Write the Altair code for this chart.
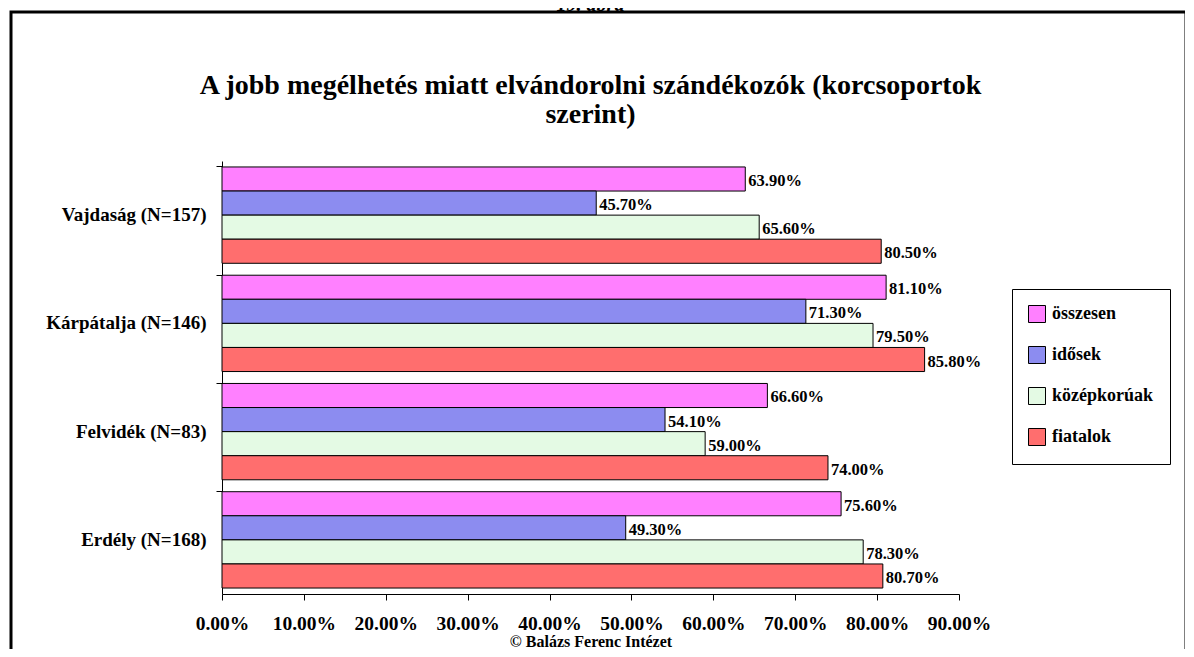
import altair as alt
import pandas as pd

regions = ["Vajdaság (N=157)", "Kárpátalja (N=146)", "Felvidék (N=83)", "Erdély (N=168)"]
groups = ["összesen", "idősek", "középkorúak", "fiatalok"]
colors = ["#FF80FF", "#8C8CF0", "#E4FAE4", "#FF6E6E"]

osszesen = [0.639, 0.811, 0.666, 0.756]
idosek = [0.457, 0.713, 0.541, 0.493]
kozepkoruak = [0.656, 0.795, 0.590, 0.783]
fiatalok = [0.805, 0.858, 0.740, 0.807]

x_ticks = [0.0, 0.1, 0.2, 0.3, 0.4, 0.5, 0.6, 0.7, 0.8, 0.9]

title_lines = ["A jobb megélhetés miatt elvándorolni szándékozók (korcsoportok", "szerint)"]
header = "19. ábra"
footer = "© Balázs Ferenc Intézet"

rows = []
for series, name in zip([osszesen, idosek, kozepkoruak, fiatalok], groups):
    for r, v in zip(regions, series):
        rows.append({"region": r, "group": name, "value": v})
df = pd.DataFrame(rows)

FONT = "Liberation Serif"

y_enc = alt.Y("region:N", sort=regions,
              scale=alt.Scale(paddingInner=0.11, paddingOuter=0.055),
              axis=alt.Axis(title=None, labelFont=FONT, labelFontSize=19, labelFontWeight="bold",
                            labelColor="black", domainColor="black", tickColor="black",
                            tickSize=6, labelPadding=10, bandPosition=0, grid=False))
yoff = alt.YOffset("group:N", sort=groups, scale=alt.Scale(paddingInner=0, paddingOuter=0))

x_enc = alt.X("value:Q", scale=alt.Scale(domain=[0, 0.9], nice=False),
              axis=alt.Axis(values=x_ticks, format=".2%", title=footer,
                            titleFont=FONT, titleFontSize=16, titleFontWeight="bold",
                            titleColor="black", titlePadding=1,
                            labelFont=FONT, labelFontSize=19.5, labelFontWeight="bold",
                            labelColor="black", labelPadding=14, labelOverlap=False,
                            labelFlush=False, domainColor="black",
                            tickColor="black", tickSize=6, grid=False))

base = alt.Chart(df)

bars = base.mark_bar(stroke="black", strokeWidth=1).encode(
    x=x_enc,
    y=y_enc,
    yOffset=yoff,
    color=alt.Color("group:N", sort=groups,
                    scale=alt.Scale(domain=groups, range=colors),
                    legend=alt.Legend(title=None, orient="none", legendX=790, legendY=128,
                                      strokeColor="black", fillColor="white", padding=16,
                                      symbolType="square", symbolSize=289,
                                      symbolStrokeColor="black", symbolStrokeWidth=1,
                                      symbolOpacity=1,
                                      labelFont=FONT, labelFontSize=18, labelFontWeight="bold",
                                      labelColor="black", rowPadding=19, labelOffset=6)),
)

labels = base.mark_text(align="left", baseline="middle", dx=3, dy=2, font=FONT,
                        fontSize=16.5, fontWeight="bold", color="black").encode(
    x="value:Q",
    y=alt.Y("region:N", sort=regions),
    yOffset=yoff,
    text=alt.Text("value:Q", format=".2%"),
)

one = pd.DataFrame({"a": [0]})
frame = alt.Chart(one).mark_rect(filled=False, stroke="black", strokeWidth=3).encode(
    x=alt.value(-211), x2=alt.value(964), y=alt.value(-149), y2=alt.value(560))

caption = alt.Chart(one).mark_text(font=FONT, fontSize=20, fontWeight="bold", fontStyle="italic",
                                   baseline="alphabetic", align="center", color="black").encode(
    x=alt.value(368.5), y=alt.value(-150), text=alt.value(header))

title1 = alt.Chart(one).mark_text(font=FONT, fontSize=28, fontWeight="bold",
                                  baseline="alphabetic", align="center", color="black").encode(
    x=alt.value(368.5), y=alt.value(-67), text=alt.value(title_lines[0]))
title2 = alt.Chart(one).mark_text(font=FONT, fontSize=28, fontWeight="bold",
                                  baseline="alphabetic", align="center", color="black").encode(
    x=alt.value(368.5), y=alt.value(-38), text=alt.value(title_lines[1]))

chart = alt.layer(frame, caption, title1, title2, bars, labels).properties(
    width=737, height=433,
    padding={"left": 214, "top": 153, "right": 226, "bottom": 55},
    autosize=alt.AutoSizeParams(type="none"),
).configure_view(stroke=None)

chart.save("out.html", embed_options={"renderer": "svg", "actions": False})
